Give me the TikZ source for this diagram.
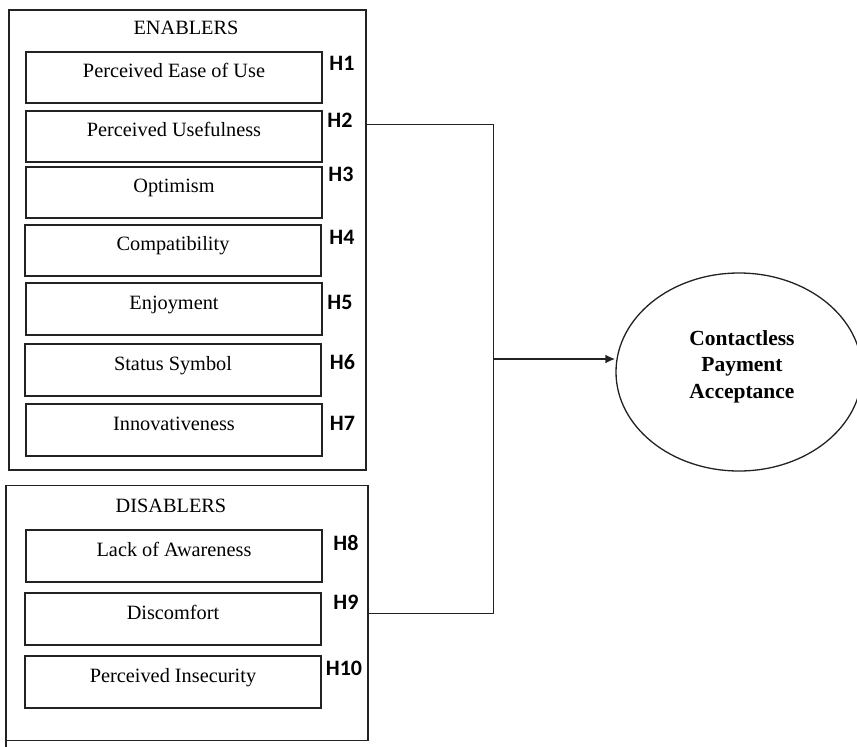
\documentclass[tikz,border=0pt]{standalone}
\usepackage{fontspec}
\setmainfont{Liberation Serif}
\newfontfamily\hfont{Carlito}
\usetikzlibrary{arrows.meta,shapes.geometric}
\definecolor{ink}{HTML}{222222}
\tikzset{
  group/.style={draw=ink,line width=1.5pt,rectangle,inner sep=0pt},
  factor/.style={draw=ink,line width=1.6pt,rectangle,minimum width=296pt,minimum height=51.5pt,
    inner sep=0pt,text height=14pt,text depth=14pt,font=\fontsize{20.3}{23}\selectfont},
  grptitle/.style={inner sep=0pt,font=\fontsize{20.3}{23}\selectfont},
  hyp/.style={inner sep=0pt,font=\hfont\bfseries\fontsize{22}{25}\selectfont},
  link/.style={draw=ink,line width=1.5pt},
  target/.style={draw=ink,line width=1.3pt,ellipse,minimum width=246pt,minimum height=198pt,inner sep=0pt}
}
\begin{document}
\begin{tikzpicture}[x=1pt,y=-1pt]
\useasboundingbox (0,0) rectangle (857,747);
% group boxes
\node[group,minimum width=357pt,minimum height=460pt] (enab) at (187.5,240) {};
\node[group,minimum width=362pt,minimum height=255pt] (disab) at (187,613) {};
\coordinate (lextA) at (6,740.5);
\coordinate (lextB) at (6,747);
\draw[link] (lextA) -- (lextB);
\node[grptitle] (entitle) at (186,28) {ENABLERS};
\node[grptitle] (dititle) at (171,506) {DISABLERS};
% enablers
\node[factor] (e1) at (174,77.5) {Perceived Ease of Use};
\node[factor] (e2) at (174,136.5) {Perceived Usefulness};
\node[factor] (e3) at (174,192.5) {Optimism};
\node[factor] (e4) at (173,250.5) {Compatibility};
\node[factor] (e5) at (174,309) {Enjoyment};
\node[factor] (e6) at (173,370) {Status Symbol};
\node[factor] (e7) at (174,430) {Innovativeness};
% disablers
\node[factor] (d1) at (174,556) {Lack of Awareness};
\node[factor] (d2) at (173,619) {Discomfort};
\node[factor] (d3) at (173,682) {Perceived Insecurity};
% hypothesis labels
\node[hyp] (h1) at (342,63) {H1};
\node[hyp] (h2) at (340,120) {H2};
\node[hyp] (h3) at (341,174) {H3};
\node[hyp] (h4) at (342,237) {H4};
\node[hyp] (h5) at (340,302) {H5};
\node[hyp] (h6) at (342.5,362) {H6};
\node[hyp] (h7) at (342.5,423) {H7};
\node[hyp] (h8) at (346,543) {H8};
\node[hyp] (h9) at (346,602) {H9};
\node[hyp] (h10) at (344,668) {H10};
% outcome
\node[target] (acc) at (739,372) {};
\node[inner sep=0pt,align=center,font=\bfseries\fontsize{21.5}{26.5}\selectfont] (acctext) at (742,366.5)
  {Contactless\\Payment\\Acceptance};
% connectors
\coordinate (jt) at (493.5,124.7);
\coordinate (jb) at (493.5,613.3);
\coordinate (jm) at (493.5,359);
\draw[link] (enab.east |- jt) -- (jt) -- (jb) -- (disab.east |- jb);
\draw[link,line width=2pt,-{Latex[length=10pt,width=9pt]}] (jm) -- (jm -| acc.west);
\end{tikzpicture}
\end{document}
